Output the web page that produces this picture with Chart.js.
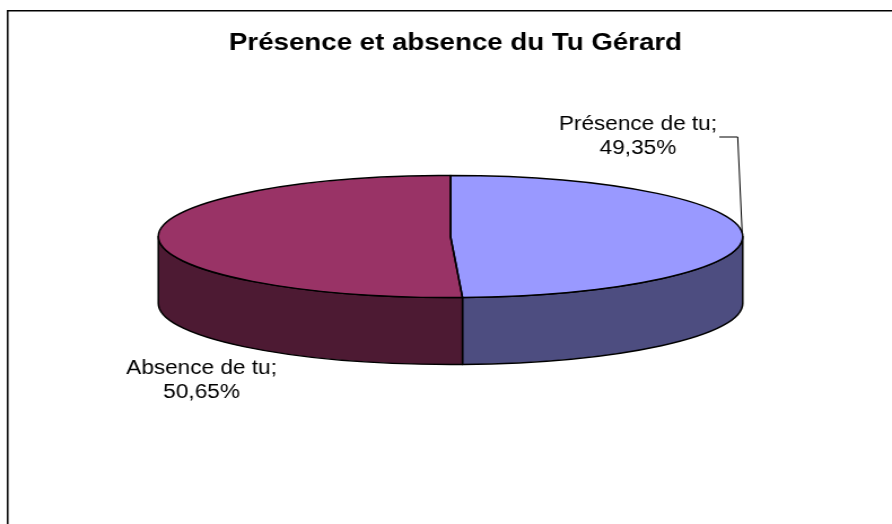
<!DOCTYPE html>
<html>
<head>
<meta charset="utf-8">
<script src="https://cdn.jsdelivr.net/npm/chart.js@4.4.1/dist/chart.umd.min.js"></script>
<style>
  html, body { margin: 0; padding: 0; background: #fff; }
</style>
</head>
<body>
<!-- drawn at 790 wide and stretched to 892 on screen -->
<canvas id="pie" width="790" height="524" style="width:892px;height:524px"></canvas>
<script>
const title = 'Présence et absence du Tu Gérard';
const categories = ['Présence de tu', 'Absence de tu'];
const values = [49.35, 50.65];

const topColors = ['#9999ff', '#993366'];
const sideColors = ['#4d4d80', '#4d1a33'];
const font = '"Liberation Sans", Arial, sans-serif';

const tilt = 0.2357;   // height / width of the top ellipse
const depth = 67;      // wall thickness

// label line centre and first baseline
const labelPos = [{ x: 565, y: 130 }, { x: 178.5, y: 374 }];

const fmt = v => v.toFixed(2).replace('.', ',') + '%';

const pie3d = {
  id: 'pie3d',
  beforeDraw(chart) {
    const { ctx, width, height } = chart;
    ctx.save();
    ctx.fillStyle = '#fff';
    ctx.fillRect(0, 0, width, height);
    ctx.strokeStyle = '#000';
    ctx.lineWidth = 1.5;
    ctx.beginPath();
    ctx.moveTo(6.8, height);
    ctx.lineTo(6.8, 10.8);
    ctx.lineTo(width, 10.8);
    ctx.stroke();
    ctx.restore();
  },
  beforeDatasetsDraw(chart) {
    const ctx = chart.ctx;
    const arcs = chart.getDatasetMeta(0).data;
    const { x, y, outerRadius: r } = arcs[0];
    const ry = r * tilt;
    // walls, front half only
    arcs.forEach((arc, i) => {
      const a0 = Math.max(arc.startAngle, 0);
      const a1 = Math.min(arc.endAngle, Math.PI);
      if (a1 <= a0) return;
      ctx.beginPath();
      ctx.ellipse(x, y, r, ry, 0, a0, a1);
      ctx.lineTo(x + r * Math.cos(a1), y + ry * Math.sin(a1) + depth);
      ctx.ellipse(x, y + depth, r, ry, 0, a1, a0, true);
      ctx.closePath();
      ctx.fillStyle = sideColors[i];
      ctx.fill();
      ctx.lineWidth = 1.5;
      ctx.lineJoin = 'round';
      ctx.strokeStyle = '#000';
      ctx.stroke();
    });
    // squash the top face
    ctx.save();
    ctx.translate(x, y);
    ctx.scale(1, tilt);
    ctx.translate(-x, -y);
  },
  afterDatasetsDraw(chart) {
    const ctx = chart.ctx;
    ctx.restore();
    const arcs = chart.getDatasetMeta(0).data;
    const { x, y, outerRadius: r } = arcs[0];
    const ry = r * tilt;

    ctx.save();
    ctx.lineWidth = 1.5;
    ctx.lineJoin = 'round';
    ctx.strokeStyle = '#000';
    arcs.forEach(arc => {
      ctx.beginPath();
      ctx.moveTo(x, y);
      ctx.ellipse(x, y, r, ry, 0, arc.startAngle, arc.endAngle);
      ctx.closePath();
      ctx.stroke();
    });

    // data labels
    const total = values.reduce((a, b) => a + b, 0);
    ctx.fillStyle = '#000';
    ctx.font = `20px ${font}`;
    ctx.textAlign = 'center';
    ctx.textBaseline = 'alphabetic';
    categories.forEach((c, i) => {
      const p = labelPos[i];
      ctx.fillText(c + ';', p.x, p.y);
      ctx.fillText(fmt(values[i] / total * 100), p.x, p.y + 23.5);
    });

    // leader line for the first label
    const w = ctx.measureText(categories[0] + ';').width;
    const t = -0.06;
    const ex = x + r * Math.cos(t), ey = y + ry * Math.sin(t);
    ctx.lineWidth = 1;
    ctx.beginPath();
    ctx.moveTo(labelPos[0].x + w / 2 + 2, labelPos[0].y + 7);
    ctx.lineTo(ex - 4, labelPos[0].y + 7);
    ctx.lineTo(ex, ey);
    ctx.stroke();

    // title
    ctx.font = `bold 24.5px ${font}`;
    ctx.fillText(title, 403.4, 49.5);
    ctx.restore();
  }
};

new Chart(document.getElementById('pie'), {
  type: 'pie',
  data: {
    labels: categories,
    datasets: [{
      data: values,
      backgroundColor: topColors,
      borderWidth: 0,
      clip: false,
    }],
  },
  options: {
    responsive: false,
    animation: false,
    events: [],
    devicePixelRatio: 1,
    radius: 258.8,
    layout: { padding: { left: 8, right: 0, top: 0, bottom: 51 } },
    plugins: {
      legend: { display: false },
      title: { display: false },
      tooltip: { enabled: false },
    },
  },
  plugins: [pie3d],
});
</script>
</body>
</html>
